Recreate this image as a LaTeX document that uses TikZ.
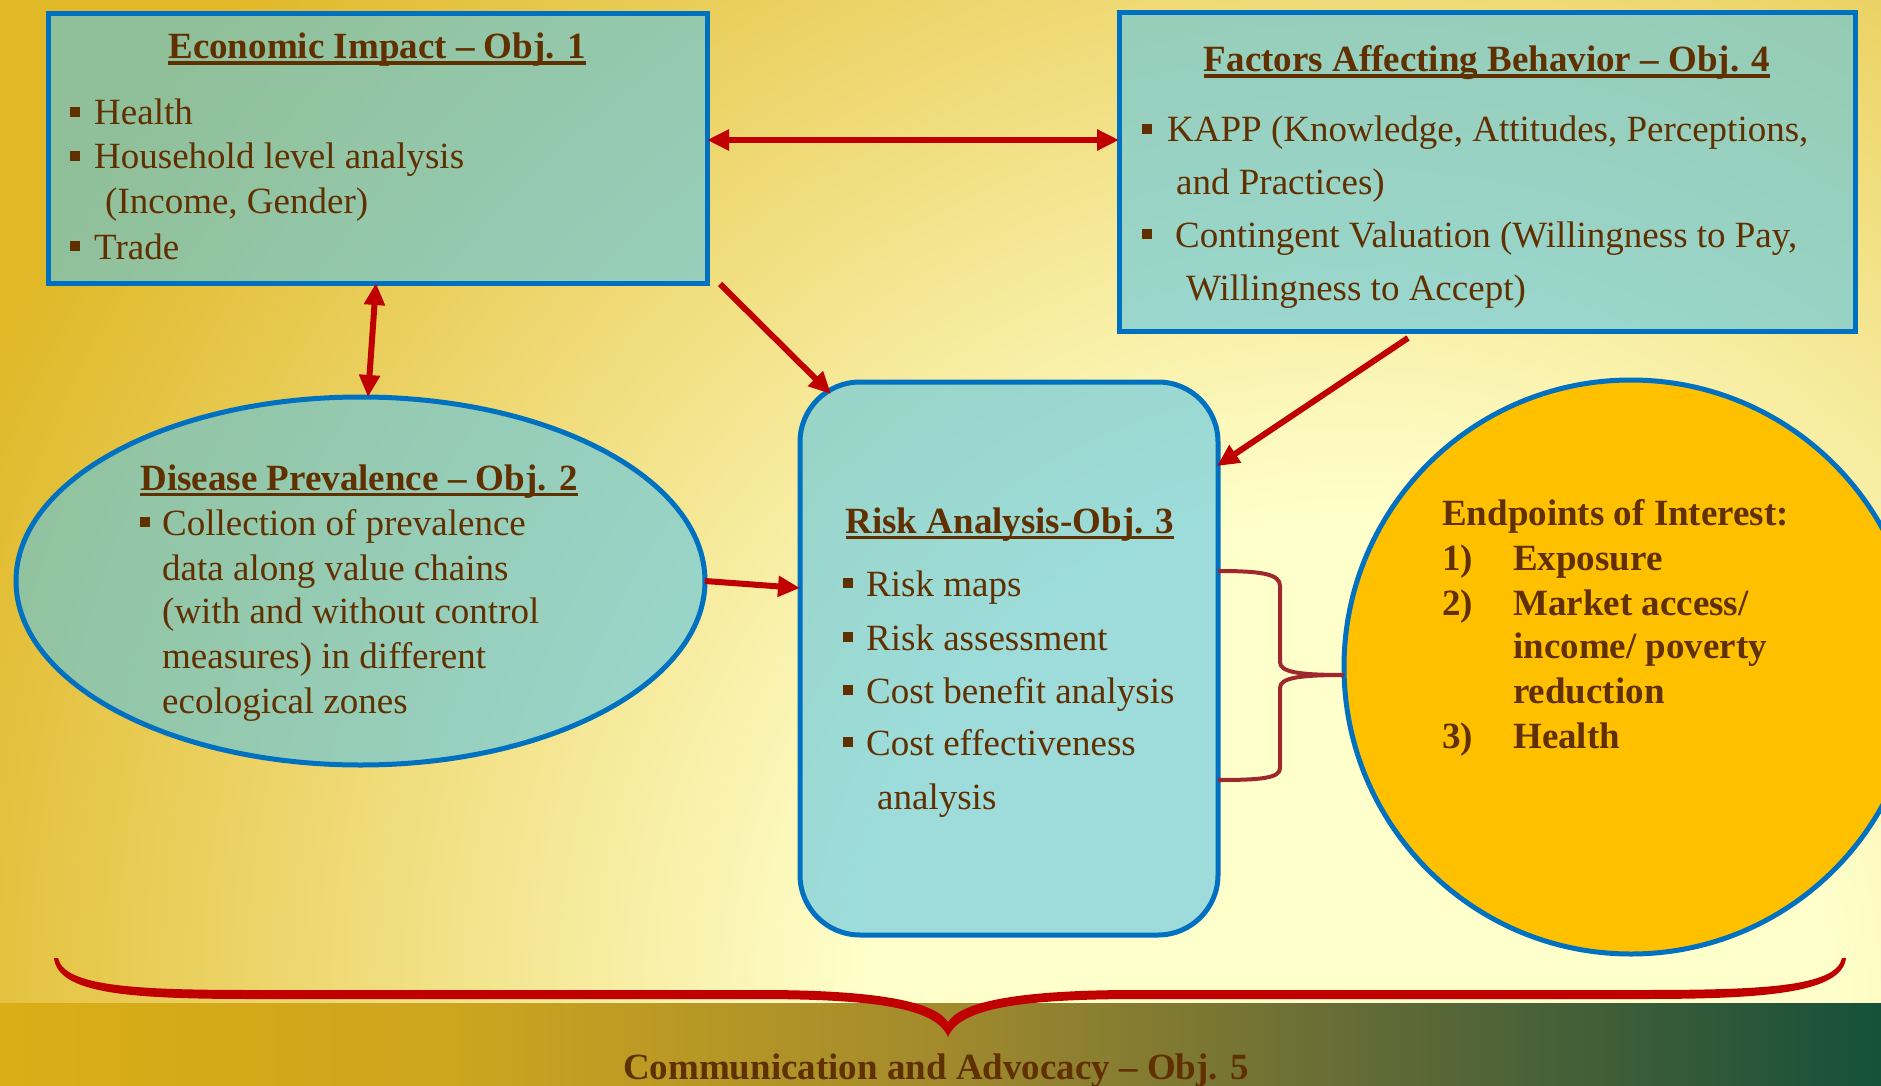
\documentclass[tikz,border=0pt]{standalone}
\usepackage{fontspec}
\setmainfont{Liberation Serif}
\usetikzlibrary{arrows.meta,shapes.geometric}
\definecolor{gold}{RGB}{224,184,40}
\definecolor{cream}{RGB}{255,255,204}
\definecolor{bandgold}{RGB}{218,174,22}
\definecolor{bandq}{RGB}{205,165,30}
\definecolor{bandmid}{RGB}{162,138,45}
\definecolor{bandt}{RGB}{95,105,55}
\definecolor{bandgreen}{RGB}{22,80,58}
\definecolor{txt}{RGB}{96,48,0}
\definecolor{bordblue}{RGB}{0,112,192}
\definecolor{cyanfill}{RGB}{92,198,230}
\definecolor{arrred}{RGB}{192,0,0}
\definecolor{bracered}{RGB}{158,40,46}
\definecolor{amber}{RGB}{255,192,0}
\pgfdeclareradialshading{bgshade}{\pgfpoint{0bp}{0bp}}{color(0bp)=(cream); color(8bp)=(cream); color(25bp)=(gold); color(50bp)=(gold)}
\pgfdeclarehorizontalshading{bandshade}{100bp}{color(0bp)=(bandgold); color(25bp)=(bandgold); color(37bp)=(bandq); color(50bp)=(bandmid); color(62bp)=(bandt); color(75bp)=(bandgreen); color(100bp)=(bandgreen)}
\newcommand\bl[1][24pt]{\makebox[#1][l]{\rule[8pt]{10pt}{10pt}}}
\newcommand\myul[1]{\setbox0=\hbox{#1}\rlap{\rule[-6pt]{\wd0}{3.5pt}}\box0}
\begin{document}
\begin{tikzpicture}[x=1pt,y=-1pt,
  panel/.style={draw=bordblue, line width=5pt, fill=cyanfill, fill opacity=0.6, draw opacity=1, inner sep=0pt, outer sep=0pt},
  tl/.style={anchor=base west, inner sep=0pt, text=txt, font=\fontsize{37}{45}\selectfont},
  tb/.style={anchor=base west, inner sep=0pt, text=txt, font=\fontsize{37}{45}\selectfont\bfseries},
  ttl/.style={anchor=base, inner sep=0pt, text=txt, font=\fontsize{37}{45}\selectfont\bfseries},
  arr/.style={draw=arrred, line width=6pt, -{Triangle[length=22pt,width=20pt]}},
  dbl/.style={draw=arrred, line width=6pt, {Triangle[length=22pt,width=20pt]}-{Triangle[length=22pt,width=20pt]}}]
\useasboundingbox (0,0) rectangle (1881,1086);
\clip (0,0) rectangle (1881,1086);
% background
\fill[gold] (0,0) rectangle (1881,1086);
\shade[shading=bgshade] (1350,1000) circle[radius=1500pt];
\shade[shading=bandshade] (0,1003) rectangle (1881,1086);
% shapes
\node[panel, minimum width=659pt, minimum height=269pt] (box1) at (377.5,148.5) {};
\node[panel, minimum width=736pt, minimum height=318pt] (box4) at (1487,172) {};
\node[panel, ellipse, minimum width=689pt, minimum height=368pt] (ell) at (360.5,581) {};
\node[panel, rounded corners=60pt, minimum width=418pt, minimum height=553pt] (risk) at (1009,658.5) {};
\node[circle, draw=bordblue, line width=5pt, fill=amber, minimum size=574pt, inner sep=0pt, outer sep=0pt] (endp) at (1631,667) {};
% connectors
\coordinate (a3s) at (720,284);
\coordinate (a3e) at (831,394);
\coordinate (a4s) at (1408,338);
\coordinate (a4e) at (1217,466);
\draw[dbl] (box1.east |- 0,140) -- (box4.west |- 0,140);
\draw[dbl] (box1.south -| 376,0) -- (ell.north -| 368,0);
\draw[arr] (a3s) -- (a3e);
\draw[arr] (a4s) -- (a4e);
\draw[arr] (ell.east) -- (risk.west |- 0,588);
% small brace
\draw[draw=bracered, line width=4pt] (risk.east |- 0,571) .. controls (1262,571) and (1280,574) .. (1280,586) -- (1280,662) .. controls (1280,672) and (1298,675) .. (endp.west |- 0,675);
\draw[draw=bracered, line width=4pt] (endp.west |- 0,675) .. controls (1298,675) and (1280,678) .. (1280,688) -- (1280,768) .. controls (1280,778) and (1262,780) .. (risk.east |- 0,780);
% bottom brace
\fill[arrred] (58,958) .. controls (64,987) and (140,990) .. (255,990) -- (760,990) .. controls (880,990) and (935,1002) .. (948,1022) .. controls (961,1002) and (1016,990) .. (1136,990) -- (1640,990) .. controls (1760,990) and (1836,987) .. (1842,958) -- (1846,958) .. controls (1842,994) and (1760,999) .. (1640,999) -- (1140,999) .. controls (1020,999) and (960,1008) .. (948,1037) .. controls (936,1008) and (876,999) .. (756,999) -- (255,999) .. controls (130,999) and (58,994) .. (54,958) -- cycle;
% box 1 text
\node[ttl] (t1) at (377,59) {\myul{Economic Impact – Obj. 1}};
\node[tl] (t1a) at (70,125) {\bl Health};
\node[tl] (t1b) at (70,169) {\bl Household level analysis};
\node[tl] (t1c) at (105,214) {(Income, Gender)};
\node[tl] (t1d) at (70,259) {\bl Trade};
% box 4 text
\node[ttl] (t4) at (1487,72) {\myul{Factors Affecting Behavior – Obj. 4}};
\node[tl] (t4a) at (1142,142) {\bl[25pt]KAPP (Knowledge, Attitudes, Perceptions,};
\node[tl] (t4b) at (1176,195) {and Practices)};
\node[tl] (t4c) at (1142,247) {\bl[33pt]Contingent Valuation (Willingness to Pay,};
\node[tl] (t4d) at (1186,300) {Willingness to Accept)};
% ellipse text
\node[ttl] (t2) at (359,490) {\myul{Disease Prevalence – Obj. 2}};
\node[tl] (t2a) at (140,535) {\bl[22pt]Collection of prevalence};
\node[tl] (t2b) at (162,580) {data along value chains};
\node[tl] (t2c) at (162,623) {(with and without control};
\node[tl] (t2d) at (162,668) {measures) in different};
\node[tl] (t2e) at (162,713) {ecological zones};
% risk text
\node[ttl] (t3) at (1010,533) {\myul{Risk Analysis-Obj. 3}};
\node[tl] (t3a) at (843,596) {\bl[23pt]Risk maps};
\node[tl] (t3b) at (843,650) {\bl[23pt]Risk assessment};
\node[tl] (t3c) at (843,703) {\bl[23pt]Cost benefit analysis};
\node[tl] (t3d) at (843,755) {\bl[23pt]Cost effectiveness};
\node[tl] (t3e) at (877,809) {analysis};
% endpoints text
\node[tb] (e0) at (1442,525) {Endpoints of Interest:};
\node[tb] (e1n) at (1442,570) {1)};
\node[tb] (e1) at (1513,570) {Exposure};
\node[tb] (e2n) at (1442,615) {2)};
\node[tb] (e2) at (1513,615) {Market access/};
\node[tb] (e2b) at (1513,658) {income/ poverty};
\node[tb] (e2c) at (1513,703) {reduction};
\node[tb] (e3n) at (1442,748) {3)};
\node[tb] (e3) at (1513,748) {Health};
% bottom label
\node[ttl] (t5) at (936,1079) {Communication and Advocacy – Obj. 5};
\end{tikzpicture}
\end{document}
